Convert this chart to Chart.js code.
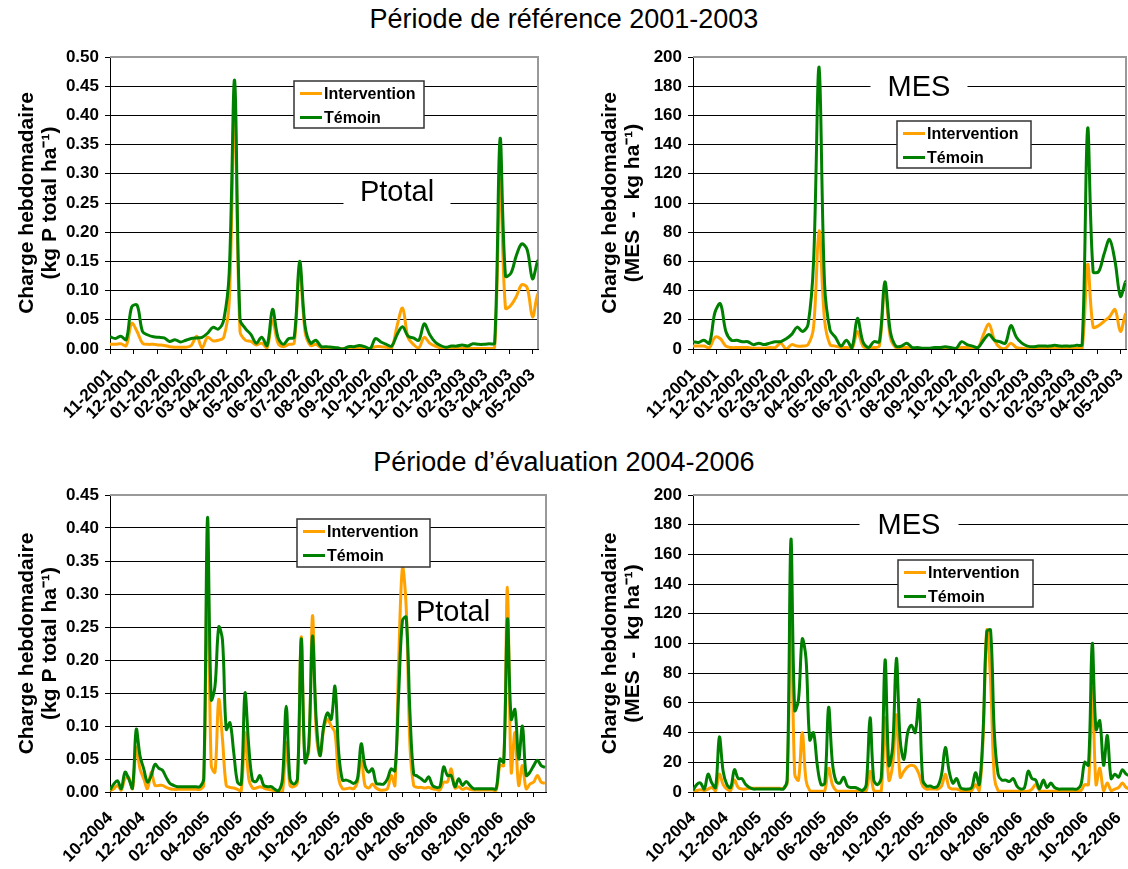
<!DOCTYPE html>
<html>
<head>
<meta charset="utf-8">
<script src="https://cdn.jsdelivr.net/npm/chart.js@4.4.1/dist/chart.umd.min.js"></script>
<style>
  body { margin: 0; width: 1128px; height: 869px; overflow: hidden; background: #fff; position: relative;
         font-family: "Liberation Sans", Arial, sans-serif; }
  .title { position: absolute; left: 0; width: 1128px; text-align: center; font-size: 27px; color: #000; }
  canvas { position: absolute; }
</style>
</head>
<body>
<div class="title" style="top:4px">Période de référence 2001-2003</div>
<div class="title" style="top:447px">Période d’évaluation 2004-2006</div>
<canvas id="c1" width="540" height="389" style="left:0;top:40px"></canvas>
<canvas id="c2" width="545" height="389" style="left:583px;top:40px"></canvas>
<canvas id="c3" width="548" height="394" style="left:0;top:478px"></canvas>
<canvas id="c4" width="560" height="394" style="left:583px;top:478px"></canvas>
<script>
// month tick labels
const monthsTop = ['11-2001','12-2001','01-2002','02-2002','03-2002','04-2002','05-2002','06-2002','07-2002',
  '08-2002','09-2002','10-2002','11-2002','12-2002','01-2003','02-2003','03-2003','04-2003','05-2003'];
const monthsBottom = ['10-2004','11-2004','12-2004','01-2005','02-2005','03-2005','04-2005','05-2005','06-2005',
  '07-2005','08-2005','09-2005','10-2005','11-2005','12-2005','01-2006','02-2006','03-2006','04-2006','05-2006',
  '06-2006','07-2006','08-2006','09-2006','10-2006','11-2006','12-2006'];

// weekly loads, 2001-2003 (week 0 = first week of 11-2001)
const ptotInterv1 = [0.008,0.008,0.009,0.006,0.044,0.03,0.01,0.008,0.008,0.007,0.006,0.004,0.003,0.003,0.003,0.006,
  0.022,0.002,0.02,0.014,0.015,0.02,0.08,0.41,0.03,0.015,0.013,0.007,0.01,0.002,0.05,0.01,0.004,0.008,0.01,0.14,
  0.03,0.006,0.008,0.002,0.001,0.001,0.001,0.001,0.001,0.001,0.001,0.001,0.001,0.004,0.004,0.003,0.002,0.04,0.07,
  0.02,0.008,0.002,0.02,0.01,0.005,0.002,0.001,0.001,0.001,0.001,0.001,0.001,0.001,0.001,0.001,0.003,0.29,0.07,
  0.075,0.09,0.11,0.105,0.055,0.095,0.1];
const ptotTemoin1 = [0.021,0.018,0.022,0.016,0.072,0.075,0.03,0.024,0.021,0.02,0.019,0.013,0.016,0.012,0.015,0.018,
  0.019,0.02,0.027,0.037,0.034,0.05,0.13,0.46,0.05,0.035,0.025,0.01,0.02,0.006,0.068,0.02,0.008,0.018,0.02,0.15,
  0.04,0.01,0.015,0.004,0.004,0.003,0.002,0.0,0.004,0.004,0.006,0.004,0.0,0.018,0.012,0.008,0.005,0.025,0.038,
  0.022,0.019,0.015,0.043,0.025,0.012,0.006,0.003,0.005,0.005,0.007,0.005,0.009,0.008,0.008,0.009,0.01,0.36,0.125,
  0.13,0.16,0.18,0.17,0.12,0.15,0.02];
const mesInterv1 = [2,2,2,1,8,7,2,1,1,1,1,0.5,0.5,0.5,1,1,4,0,3,2,2,3,15,81,20,3,2,1,1,0,12,2,0.5,1,2,42,8,1,1,1,
  0,0.3,0.3,0.3,0.3,0.3,0.3,0.3,0.3,1,1,0.5,0.5,10,17,6,1,0.5,4,1,0.5,0,0.5,0.5,0.5,0.5,0.5,0.5,0.5,0.5,0.5,0.5,
  58,15,16,19,22,27,12,24,3];
const mesTemoin1 = [5,4.5,6,4,25,31,12,6,6,5,5,3,4,3,4,5,5,7,10,15,12,17,60,193,45,13,8,2,6,1,21,5,1,5,5,46,12,2,
  2,4,1,1,0.5,0.5,1,1,1.5,1,0.5,5,3,2,1,6,10,6,5,4,16,8,4,2,1.5,2,2,2,2.5,2,2,2,2.5,3,151,53,53,65,75,60,36,46,4];

// weekly loads, 2004-2006 (week 0 = first week of 10-2004)
const ptotInterv2 = [0.002,0.005,0.01,0.003,0.02,0.022,0.005,0.068,0.035,0.02,0.005,0.03,0.01,0.01,0.01,0.007,
  0.005,0.004,0.004,0.004,0.004,0.004,0.004,0.004,0.004,0.01,0.36,0.04,0.03,0.14,0.08,0.01,0.007,0.006,0.004,0.002,
  0.09,0.02,0.006,0.006,0.008,0.006,0.004,0.003,0.002,0.0,0.0,0.075,0.01,0.008,0.015,0.235,0.05,0.06,0.267,0.09,
  0.055,0.095,0.11,0.1,0.09,0.02,0.005,0.005,0.006,0.005,0.015,0.053,0.01,0.006,0.012,0.006,0.003,0.003,0.005,
  0.025,0.01,0.2,0.34,0.28,0.07,0.01,0.007,0.007,0.006,0.007,0.005,0.004,0.003,0.015,0.015,0.035,0.006,0.008,
  0.004,0.006,0.004,0.003,0.003,0.003,0.003,0.003,0.003,0.003,0.04,0.04,0.31,0.03,0.09,0.01,0.04,0.005,0.012,
  0.015,0.025,0.015,0.013];
const ptotTemoin2 = [0.003,0.012,0.017,0.005,0.03,0.02,0.006,0.095,0.055,0.035,0.015,0.025,0.042,0.036,0.033,0.022,
  0.013,0.01,0.008,0.008,0.008,0.008,0.008,0.008,0.008,0.02,0.415,0.14,0.16,0.25,0.23,0.095,0.105,0.06,0.015,0.012,
  0.15,0.07,0.018,0.016,0.025,0.01,0.008,0.008,0.004,0.002,0.02,0.13,0.02,0.012,0.02,0.232,0.045,0.07,0.236,0.11,
  0.055,0.1,0.12,0.11,0.16,0.06,0.018,0.018,0.016,0.013,0.02,0.073,0.04,0.03,0.035,0.013,0.012,0.012,0.02,0.035,
  0.032,0.15,0.26,0.265,0.12,0.027,0.024,0.02,0.016,0.023,0.01,0.007,0.008,0.038,0.025,0.025,0.008,0.02,0.01,
  0.016,0.01,0.005,0.005,0.005,0.005,0.005,0.005,0.005,0.05,0.045,0.262,0.11,0.125,0.05,0.1,0.025,0.03,0.04,
  0.048,0.04,0.037];
const mesInterv2 = [0,1,1.5,1,2,3,1,12,5,2,1,8,3,2,2,2.5,2.5,2.5,2.5,2.5,2.5,2.5,2.5,2.5,2.5,6,128,12,8,40,8,1,
  0.5,0.5,0.5,1,16,5,1,0.5,0.5,0.5,0.5,0.5,0.5,0.5,1,14,1,0.5,1,50,8,18,52,10,14,17,18,17,12,4,2,2,2,2,4,12,3,2,
  2,1,1,1,1,5,1,35,109,75,10,1,0.5,0.5,0.5,0.5,0.5,0.5,0.5,0.5,2,5,1,0.5,0.5,0.5,0.5,0.5,0.5,0.5,0.5,0.5,1,1,5,5,
  70,5,16,1,6,1,2,3,6,3,2];
const mesTemoin2 = [1,5,6,2,12,6,3,37,14,5,3,15,9,9,5,3,2,2,2,2,2,2,2,2,2,8,170,55,62,103,90,35,40,18,5,6,57,20,7,
  6,10,4,3,3,2,1,5,50,8,5,10,89,18,30,90,35,22,40,45,40,62,8,4,4,3,4,12,30,14,6,9,3,2,2,3,13,5,40,108,109,40,12,8,
  8,7,9,4,2,3,14,9,8,2,8,3,6,3,2,2,2,2,2,2,5,20,18,100,42,48,18,38,9,12,10,15,12,11];

const ORANGE = '#FFA200';
const GREEN = '#008000';
const FONT = '"Liberation Sans", Arial, sans-serif';
Chart.defaults.font.family = FONT;
Chart.defaults.color = '#000';

function dayOf(label) {
  const [m, y] = label.split('-').map(Number);
  return Date.UTC(y, m - 1, 1) / 864e5;
}

// legend box, grey frame, "Ptotal"/"MES" tag
const deco = {
  id: 'deco',
  beforeDatasetsDraw(chart, args, o) {
    const { ctx, chartArea: a } = chart;
    ctx.save();
    ctx.strokeStyle = '#999';
    ctx.lineWidth = 2;
    ctx.beginPath();
    ctx.moveTo(a.left, a.top);
    ctx.lineTo(a.right, a.top);
    ctx.lineTo(a.right, a.bottom);
    ctx.stroke();
    const t = o.tag;
    const tx = a.left + t.x, ty = a.top + t.y;
    if (t.gap) {
      ctx.fillStyle = '#fff';
      ctx.fillRect(tx - t.gap / 2, ty - 16, t.gap, 32);
    }
    ctx.font = '29px ' + FONT;
    ctx.fillStyle = '#000';
    ctx.textAlign = 'center';
    ctx.textBaseline = 'middle';
    ctx.fillText(t.text, tx, ty + 1);
    ctx.restore();
  },
  afterDatasetsDraw(chart, args, o) {
    const { ctx, chartArea: a } = chart;
    const L = o.legend;
    const x0 = a.left + L.x, y0 = a.top + L.y;
    ctx.save();
    ctx.fillStyle = '#fff';
    ctx.fillRect(x0, y0, L.w, L.h);
    ctx.strokeStyle = '#333';
    ctx.lineWidth = 1.5;
    ctx.strokeRect(x0, y0, L.w, L.h);
    ctx.font = 'bold 16px ' + FONT;
    ctx.textBaseline = 'middle';
    ctx.textAlign = 'left';
    chart.data.datasets.forEach((ds, k) => {
      const yy = y0 + 12.5 + k * 24;
      ctx.strokeStyle = ds.borderColor;
      ctx.lineWidth = 3;
      ctx.beginPath();
      ctx.moveTo(x0 + 6, yy);
      ctx.lineTo(x0 + 28, yy);
      ctx.stroke();
      ctx.fillStyle = '#000';
      ctx.fillText(ds.label, x0 + 30, yy + 1);
    });
    ctx.restore();
  }
};

function panel(id, o) {
  const origin = dayOf(o.months[0]);
  const tickDays = o.months.map(l => dayOf(l) - origin);
  const weekly = arr => arr.map((v, i) => ({ x: i * 7, y: v }));
  return new Chart(document.getElementById(id), {
    type: 'line',
    data: {
      datasets: [
        { label: 'Intervention', data: weekly(o.inter), borderColor: ORANGE, order: 1 },
        { label: 'Témoin', data: weekly(o.temoin), borderColor: GREEN, order: 0 }
      ]
    },
    options: {
      responsive: false,
      animation: false,
      layout: { padding: { top: 17, right: o.padRight, left: 0, bottom: 0 } },
      elements: { line: { borderWidth: 3, tension: 0.35 }, point: { radius: 0 } },
      plugins: { legend: { display: false }, tooltip: { enabled: false }, deco: o.deco },
      scales: {
        x: {
          type: 'linear', min: 0, max: o.xMax,
          afterBuildTicks: s => { s.ticks = tickDays.map(v => ({ value: v })); },
          afterFit: s => { s.height = 80; s.paddingLeft = 0; s.paddingRight = 0; },
          grid: { drawOnChartArea: false, drawTicks: true, tickLength: 5, color: '#000' },
          border: { color: '#000', width: 1 },
          ticks: {
            autoSkip: false, minRotation: 45, maxRotation: 45, padding: 11, color: '#000',
            font: { size: 17, weight: 'bold' },
            callback: (v, i) => (i % o.labelEvery === 0 ? o.months[i] : '')
          }
        },
        y: {
          min: 0, max: o.yMax,
          afterFit: s => { s.width = 110; },
          ticks: {
            stepSize: o.yStep, padding: 6, color: '#000', font: { size: 17, weight: 'bold' },
            callback: v => v.toFixed(o.dec)
          },
          grid: { color: '#000', lineWidth: 1, tickLength: 5 },
          border: { color: '#000', width: 1 },
          title: {
            display: true, text: o.yTitle, color: '#000',
            font: { size: 21, weight: 'bold', lineHeight: 1.1 }, padding: { top: 16, bottom: 0 }
          }
        }
      }
    },
    plugins: [deco]
  });
}

const titleP = ['Charge hebdomadaire', '(kg P total ha\u207B\u00B9)'];
const titleM = ['Charge hebdomadaire', '(MES  -  kg ha\u207B\u00B9)'];

panel('c1', {
  months: monthsTop, labelEvery: 1, xMax: 553, padRight: 2,
  inter: ptotInterv1, temoin: ptotTemoin1, yMax: 0.5, yStep: 0.05, dec: 2, yTitle: titleP,
  deco: { legend: { x: 184, y: 24, w: 130, h: 47 }, tag: { text: 'Ptotal', x: 287, y: 135, gap: 107 } }
});
panel('c2', {
  months: monthsTop, labelEvery: 1, xMax: 553, padRight: 2,
  inter: mesInterv1, temoin: mesTemoin1, yMax: 200, yStep: 20, dec: 0, yTitle: titleM,
  deco: { legend: { x: 204, y: 64, w: 134, h: 47 }, tag: { text: 'MES', x: 226, y: 30, gap: 97 } }
});
panel('c3', {
  months: monthsBottom, labelEvery: 2, xMax: 814, padRight: 2,
  inter: ptotInterv2, temoin: ptotTemoin2, yMax: 0.45, yStep: 0.05, dec: 2, yTitle: titleP,
  deco: { legend: { x: 187, y: 24, w: 133, h: 48 }, tag: { text: 'Ptotal', x: 343, y: 117, gap: 0 } }
});
panel('c4', {
  months: monthsBottom, labelEvery: 2, xMax: 814, padRight: 12,
  inter: mesInterv2, temoin: mesTemoin2, yMax: 200, yStep: 20, dec: 0, yTitle: titleM,
  deco: { legend: { x: 205, y: 65, w: 135, h: 47 }, tag: { text: 'MES', x: 216, y: 30, gap: 99 } }
});
</script>
</body>
</html>
